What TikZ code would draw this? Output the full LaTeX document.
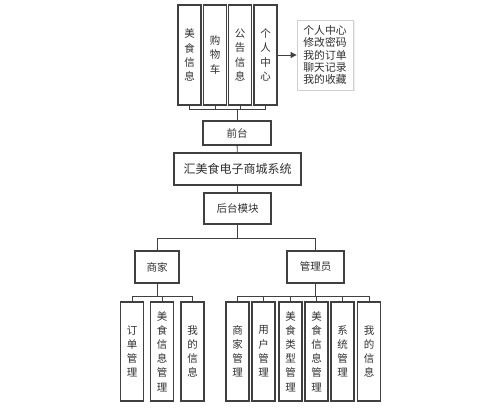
\documentclass[tikz,border=0pt]{standalone}
\usepackage{fontspec}
\setmainfont{Noto Sans CJK SC}
\usetikzlibrary{arrows.meta}
\definecolor{edge}{HTML}{404040}
\definecolor{txt}{HTML}{303030}
\definecolor{lightedge}{HTML}{D0D0D0}

\begin{document}
\begin{tikzpicture}[x=1pt,y=-1pt,
  box/.style={draw=edge, line width=1.1pt, fill=white, inner sep=0pt, text=txt, font=\fontsize{10.5}{12}\selectfont},
  vbox/.style={box, minimum width=23pt, minimum height=100pt, align=center, font=\fontsize{10.5}{14.2}\selectfont},
  link/.style={draw=edge, line width=0.9pt}]
\useasboundingbox (0,0) rectangle (499,412);
% front end
\node[vbox] (ms) at (189.5, 55) {美\\食\\信\\息};
\node[vbox] (gwc) at (215, 55) {购\\物\\车};
\node[vbox] (gg) at (240, 55) {公\\告\\信\\息};
\node[vbox] (gr) at (265.5, 55) {个\\人\\中\\心};
\fill[black!7] (298.5, 21.5) rectangle (354.5, 91.5);
\node[draw=lightedge, line width=0.8pt, fill=white, inner sep=0pt, minimum width=56pt, minimum height=70pt, align=center, text=txt, font=\fontsize{10.8}{12.3}\selectfont] (grlist) at (325, 55) {个人中心\\修改密码\\我的订单\\聊天记录\\我的收藏};
\draw[link, -{Triangle[length=6pt,width=6pt]}] (gr.east) -- (grlist.west);
\node[box, minimum width=68pt, minimum height=24pt] (qt) at (237, 133) {前台};
\node[box, minimum width=127pt, minimum height=32pt, font=\fontsize{12}{14}\selectfont] (sys) at (237.5, 169) {汇美食电子商城系统};
\node[box, minimum width=67pt, minimum height=31pt] (ht) at (237.5, 208.5) {后台模块};
% back end
\node[box, minimum width=44pt, minimum height=32pt] (sj) at (157, 267) {商家};
\node[box, minimum width=57pt, minimum height=32pt] (gly) at (315.5, 267) {管理员};
\node[vbox, minimum height=99pt] (ddgl) at (132, 351.5) {订\\单\\管\\理};
\node[vbox, minimum height=99pt] (msgl) at (162, 351.5) {美\\食\\信\\息\\管\\理};
\node[vbox, minimum height=99pt] (sjxx) at (192.5, 351.5) {我\\的\\信\\息};
\node[vbox, minimum height=99pt] (sjgl) at (237.5, 351.5) {商\\家\\管\\理};
\node[vbox, minimum height=99pt] (yhgl) at (263.5, 351.5) {用\\户\\管\\理};
\node[vbox, minimum height=99pt] (lxgl) at (290.5, 351.5) {美\\食\\类\\型\\管\\理};
\node[vbox, minimum height=99pt] (xxgl) at (316.5, 351.5) {美\\食\\信\\息\\管\\理};
\node[vbox, minimum height=99pt] (xtgl) at (342.5, 351.5) {系\\统\\管\\理};
\node[vbox, minimum height=99pt] (glxx) at (369, 351.5) {我\\的\\信\\息};

\draw[link] (qt.north) -- ++(0,-11) -| (ms.south);
\draw[link] (qt.north) -- ++(0,-11) -| (gwc.south);
\draw[link] (qt.north) -- ++(0,-11) -| (gg.south);
\draw[link] (qt.north) -- ++(0,-11) -| (gr.south);
\draw[link] (qt) -- (sys);
\draw[link] (sys) -- (ht);
\draw[link] (ht.south) -- ++(0,14) -| (sj.north);
\draw[link] (ht.south) -- ++(0,14) -| (gly.north);
\draw[link] (sj.south) -- ++(0,13) -| (ddgl.north);
\draw[link] (sj.south) -- ++(0,13) -| (msgl.north);
\draw[link] (sj.south) -- ++(0,13) -| (sjxx.north);
\draw[link] (gly.south) -- ++(0,13) -| (sjgl.north);
\draw[link] (gly.south) -- ++(0,13) -| (yhgl.north);
\draw[link] (gly.south) -- ++(0,13) -| (lxgl.north);
\draw[link] (gly.south) -- ++(0,13) -| (xxgl.north);
\draw[link] (gly.south) -- ++(0,13) -| (xtgl.north);
\draw[link] (gly.south) -- ++(0,13) -| (glxx.north);
\end{tikzpicture}
\end{document}
